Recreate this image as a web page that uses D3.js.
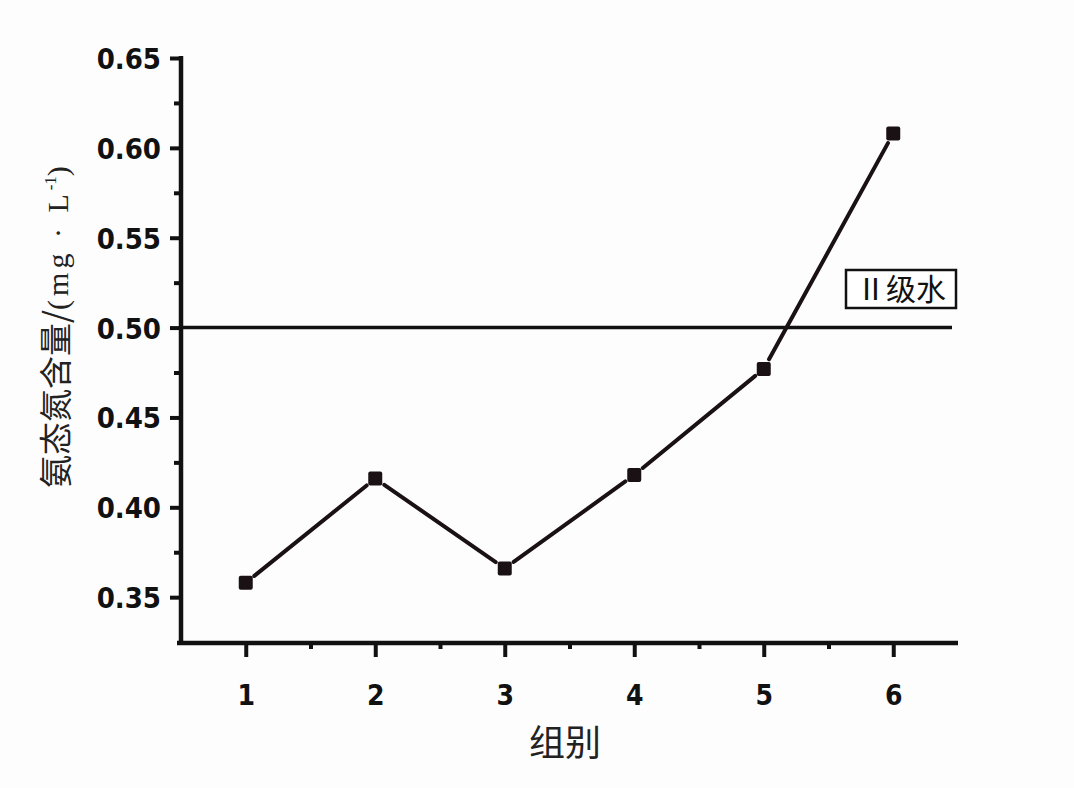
<!DOCTYPE html>
<html><head><meta charset="utf-8">
<script src="https://cdn.jsdelivr.net/npm/d3@7/dist/d3.min.js"></script>
<style>body{margin:0;background:#fff}svg{display:block}
.num{font-family:'DejaVu Sans',sans-serif;font-stretch:condensed;font-weight:bold}</style>
</head><body>
<svg id="c" width="1074" height="788"></svg>
<script>
const groups = [1, 2, 3, 4, 5, 6];
const values = [0.358, 0.416, 0.366, 0.418, 0.477, 0.608];
const yTicks = [0.35, 0.40, 0.45, 0.50, 0.55, 0.60, 0.65];
const yMinor = [0.375, 0.425, 0.475, 0.525, 0.575, 0.625];
const xMinor = [1.5, 2.5, 3.5, 4.5, 5.5];
const refValue = 0.50;
const refLabel = "Ⅱ级水";
const xTitle = "组别";
const yTitle = "氨态氮含量/";

const svg = d3.select("#c");
const x = d3.scaleLinear().domain([0.5, 6.5]).range([181, 958]);
const y = d3.scaleLinear().domain([0.3245, 0.65]).range([643, 58]);

svg.append("rect").attr("width",1074).attr("height",788).attr("fill","#fdfdfd");
const g = svg.append("g");

// y axis
const yAxis = d3.axisLeft(y).tickValues(yTicks).tickSize(11).tickPadding(9)
  .tickFormat(d3.format(".2f"));
const ya = g.append("g").attr("transform","translate(181,0)").call(yAxis);
ya.select(".domain").remove();
ya.selectAll(".tick line").attr("stroke","#111").attr("stroke-width",4);
ya.selectAll(".tick text").attr("class","num").attr("font-size",29).attr("fill","#111").attr("dy","0.36em");
const yaMin = g.append("g").attr("transform","translate(181,0)")
  .call(d3.axisLeft(y).tickValues(yMinor).tickSize(7).tickFormat(""));
yaMin.select(".domain").remove();
yaMin.selectAll(".tick line").attr("stroke","#111").attr("stroke-width",4);

// x axis
const xAxis = d3.axisBottom(x).tickValues(groups).tickSize(14).tickPadding(28)
  .tickFormat(d3.format("d"));
const xa = g.append("g").attr("transform","translate(0,643)").call(xAxis);
xa.select(".domain").remove();
xa.selectAll(".tick line").attr("stroke","#111").attr("stroke-width",4);
xa.selectAll(".tick text").attr("class","num").attr("font-size",28).attr("fill","#111");
const xaMin = g.append("g").attr("transform","translate(0,643)")
  .call(d3.axisBottom(x).tickValues(xMinor).tickSize(6).tickFormat(""));
xaMin.select(".domain").remove();
xaMin.selectAll(".tick line").attr("stroke","#111").attr("stroke-width",4);

// axis lines
g.append("line").attr("x1",181).attr("x2",181).attr("y1",y(0.65)-2).attr("y2",645)
  .attr("stroke","#111").attr("stroke-width",4.5);
g.append("line").attr("x1",177).attr("x2",x(6.5)).attr("y1",643).attr("y2",643)
  .attr("stroke","#111").attr("stroke-width",4.5);

// reference line
g.append("line").attr("x1",181).attr("x2",952).attr("y1",y(refValue)).attr("y2",y(refValue))
  .attr("stroke","#111").attr("stroke-width",3.5);
const lbl = g.append("g");
lbl.append("rect").attr("x",846).attr("y",270).attr("width",110).attr("height",38)
  .attr("fill","#fff").attr("stroke","#111").attr("stroke-width",2.5);
lbl.append("text").attr("x",901).attr("y",300).attr("text-anchor","middle")
  .attr("font-family","'Noto Sans CJK SC',sans-serif").attr("font-size",30).attr("fill","#111")
  .text(refLabel);

// data line segments with small gaps
const pts = groups.map((d,i)=>[x(d), y(values[i])]);
for (let i=0;i<pts.length-1;i++){
  const [x1,y1]=pts[i],[x2,y2]=pts[i+1];
  const dx=x2-x1, dy=y2-y1, L=Math.hypot(dx,dy);
  const gap=11;
  g.append("line")
    .attr("x1",x1+dx/L*gap).attr("y1",y1+dy/L*gap)
    .attr("x2",x2-dx/L*gap).attr("y2",y2-dy/L*gap)
    .attr("stroke","#1a1114").attr("stroke-width",4).attr("stroke-linecap","round");
}
g.selectAll("rect.pt").data(groups).enter().append("rect").attr("class","pt")
  .attr("x",d=>x(d)-7).attr("y",(d,i)=>y(values[i])-7)
  .attr("width",14).attr("height",14).attr("rx",2)
  .attr("fill","#1a1114");

// titles
svg.append("text").attr("x",565).attr("y",756).attr("text-anchor","middle")
  .attr("font-family","'Noto Sans CJK SC',sans-serif").attr("font-size",36).attr("fill","#222")
  .text(xTitle);
const yt = svg.append("text").attr("transform","translate(68,327) rotate(-90)")
  .attr("text-anchor","middle").attr("fill","#222");
yt.append("tspan").attr("font-family","'Noto Sans CJK SC',sans-serif").attr("font-size",33).text(yTitle);
yt.append("tspan").attr("font-family","'Liberation Serif',serif").attr("font-size",30).attr("letter-spacing",4).text("(mg · L");
yt.append("tspan").attr("font-family","'Liberation Serif',serif").attr("font-size",17).attr("dy",-12).text("-1");
yt.append("tspan").attr("font-family","'Liberation Serif',serif").attr("font-size",30).attr("dy",12).text(")");
</script>
</body></html>
